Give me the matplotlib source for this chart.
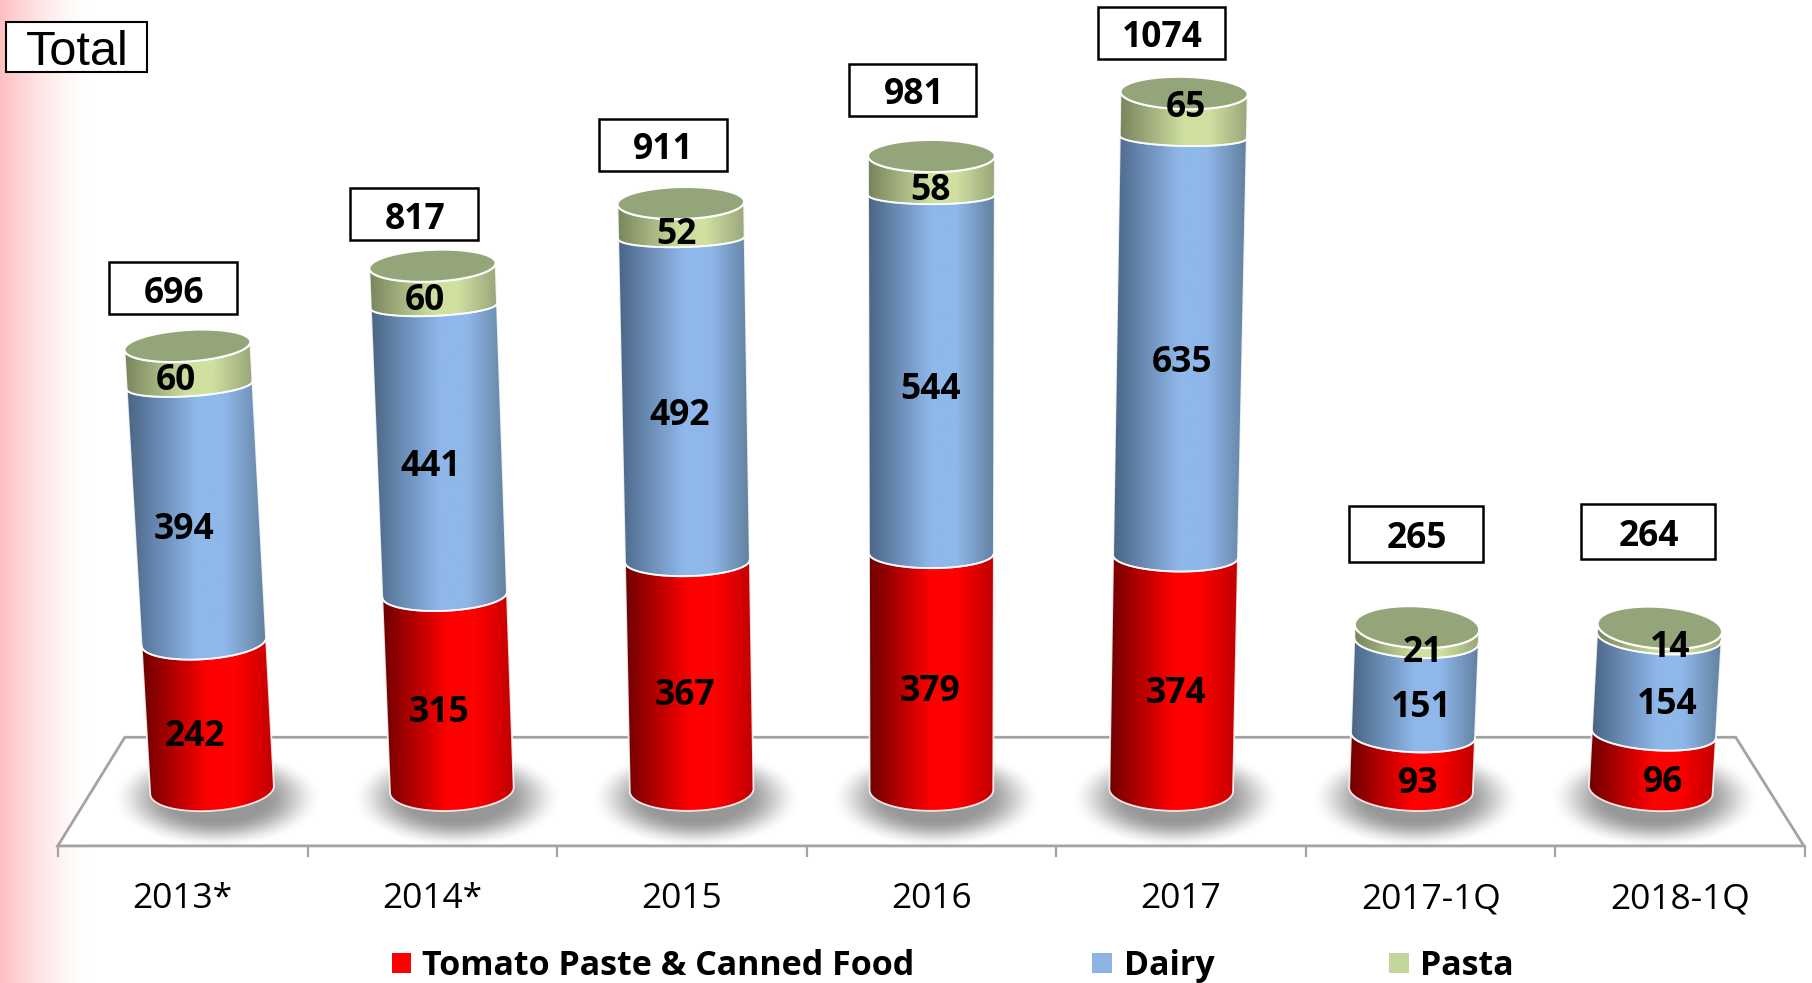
import numpy as np
import matplotlib
matplotlib.use("Agg")
import matplotlib.pyplot as plt
from matplotlib.patches import Polygon, Rectangle
from matplotlib.transforms import Affine2D, blended_transform_factory

# ---------- data ----------
categories = ["2013*", "2014*", "2015", "2016", "2017", "2017-1Q", "2018-1Q"]
tomato = [242, 315, 367, 379, 374, 93, 96]
dairy = [394, 441, 492, 544, 635, 151, 154]
pasta = [60, 60, 52, 58, 65, 21, 14]
totals = [696, 817, 911, 981, 1074, 265, 264]
series_names = ["Tomato Paste & Canned Food", "Dairy", "Pasta"]

# ---------- styles / layout ----------
S = 1812 / 1568
W, H = 1812, 983
FONT = "Open Sans"
DARK = {"t": ["#6e0000", "#ff0000", "#ff0000", "#c00000"],
        "d": ["#4a6585", "#8fb8ea", "#8fb8ea", "#62809f"],
        "p": ["#77845c", "#cfe0a0", "#cfe0a0", "#9aa67a"]}
STOPS = [0.0, 0.5, 0.7, 1.0]
CAP = "#95a57a"
LEGEND_COL = ["#ff0000", "#8db4e2", "#c3d69b"]
box_extents = [(94, 205, 227, 272), (303, 414, 163, 208), (518, 629, 103, 148),
               (735, 845, 55, 100), (950, 1060, 6, 51), (1167, 1283, 438, 486),
               (1368, 1484, 436, 484)]
label_dy = {"t": 18, "d": 14, "p": 13}
TEXT_DY = 3.5


def height_fwd(v):
    v = np.asarray(v, dtype=float)
    pos = np.maximum(v, 0)
    h = 0.5635 * pos - 9 * (1 - np.exp(-pos / 100)) + 7 * (pos / 1074) ** 4
    return np.where(v < 0, 0.4735 * v, h)


_grid = np.linspace(-1000, 3000, 8001)
_hgrid = height_fwd(_grid)


def height_inv(h):
    return np.interp(h, _hgrid, _grid)


fig = plt.figure(figsize=(W / 100, H / 100), dpi=100)
ax = fig.add_axes([0, 0, 1, 1])
ax.set_yscale("function", functions=(height_fwd, height_inv))
x_unit = 207.5 * S
ax.set_xlim(3 - 806 * S / x_unit, 3 + (W - 806 * S) / x_unit)
ax.set_ylim(height_inv(-167.0), height_inv(683.7))
ax.set_autoscale_on(False)
ax.axis("off")

px = Affine2D().scale(1, -1).translate(0, H)  # image pixels, y down
xblend = blended_transform_factory(ax.transData, px)


def anchor(cat, v):
    """Pixel position (image coords) of the axis of a cylinder at value v."""
    x, y = ax.transData.transform((cat, v))
    base = ax.transData.transform((cat, 0))[1]
    h_px = y - base
    return x + 0.0185 * (cat - 3) * h_px, H - y, h_px / S


def ry_level(h):
    return S * np.interp(h, [0, 50, 130, 200, 300, 400, 600], [18, 14, 15, 13, 10.5, 8.5, 7.5])


def ry_cap(h):
    return S * np.interp(h, [140, 300, 600], [18, 13.5, 14])


def rx_at(h):
    return S * (53.5 + 1.5 * h / 600)


def ellipse(cat, cx, cy, rx, ry, t):
    slope = 0.021 * (cat - 3)
    return np.column_stack([cx + rx * np.cos(t), cy + ry * np.sin(t) + slope * rx * np.cos(t)])


FRONT = np.linspace(np.pi, 0, 60)
FULL = np.linspace(0, 2 * np.pi, 120)


def hex_rgb(c):
    return np.array(matplotlib.colors.to_rgb(c))


def gradient(key):
    pos = np.linspace(0, 1, 256)
    cols = np.array([hex_rgb(c) for c in DARK[key]])
    return np.stack([np.interp(pos, STOPS, cols[:, i]) for i in range(3)], axis=-1)[None, :, :]


# ---------- background band ----------
pos = np.linspace(0, 1, 120)
alpha = np.clip(1 - pos, 0, 1) ** 1.5
bg = np.ones((1, 120, 3))
bg[..., 1] = bg[..., 2] = 1 - 0.25 * alpha
ax.imshow(bg, extent=(0, 90, H, 0), transform=px, aspect="auto", zorder=0, interpolation="bilinear")

# ---------- floor ----------
floor = np.array([(50, 732), (108, 638), (1502, 638), (1561, 732)]) * S
ax.add_patch(Polygon(floor, closed=True, facecolor="white", edgecolor="#a3a3a3", lw=2,
                     transform=px, zorder=1, joinstyle="miter"))
front_y = 732 * S
for i in range(len(categories) + 1):
    xc = 3 + (i - 3.5) * 215.9 / 207.5
    ax.plot([xc, xc], [front_y, 741 * S], color="#a3a3a3", lw=1.6, transform=xblend, zorder=1)
for i, c in enumerate(categories):
    xc = 3 + (i - 3) * 216 / 207.5
    ax.text(xc, (775 + TEXT_DY - 0.5) * S, c, transform=xblend, ha="center", va="center", family=FONT,
            fontsize=25.5, color="#000000")

# ---------- cylinders ----------
for i in range(len(categories)):
    cx0, cy0, h0 = anchor(i, 0)
    # shadow
    n = 200
    yy, xx = np.mgrid[-1.1:1.1:n * 1j, -1.1:1.1:n * 1j]
    r = np.sqrt(xx ** 2 + yy ** 2)
    a = np.clip((1.0 - r) / 0.55, 0, 1)
    a = a * a * (3 - 2 * a) * 0.7
    img = np.zeros((n, n, 4))
    img[..., :3] = 0.42
    img[..., 3] = a
    sx, sy = cx0 + 4 * S, cy0 + 7 * S
    rsx, rsy = 92 * S, 43 * S
    ax.imshow(img, extent=(sx - 1.1 * rsx, sx + 1.1 * rsx, sy + 1.1 * rsy, sy - 1.1 * rsy),
              transform=px, aspect="auto", zorder=2, interpolation="bilinear")

    levels = [0, tomato[i], tomato[i] + dairy[i], totals[i]]
    keys = ["t", "d", "p"]
    vals = [tomato[i], dairy[i], pasta[i]]
    for k in range(3):
        xa, ya, ha = anchor(i, levels[k])
        xb, yb, hb = anchor(i, levels[k + 1])
        low = ellipse(i, xa, ya, rx_at(ha), ry_level(ha), FRONT)
        ryt = ry_cap(hb) if k == 2 else ry_level(hb)
        up = ellipse(i, xb, yb, rx_at(hb), ryt, FRONT)
        poly = np.vstack([low, up[::-1]])
        clip = Polygon(poly, closed=True, transform=px, facecolor="none", edgecolor="none")
        ax.add_patch(clip)
        x0, x1 = poly[:, 0].min(), poly[:, 0].max()
        y0, y1 = poly[:, 1].min(), poly[:, 1].max()
        im = ax.imshow(gradient(keys[k]), extent=(x0, x1, y1, y0), transform=px, aspect="auto",
                       zorder=3 + 0.1 * k, interpolation="bilinear")
        im.set_clip_path(clip)
        ax.add_patch(Polygon(poly, closed=True, facecolor="none", edgecolor="white", lw=1.3,
                             alpha=0.85, transform=px, zorder=3.5))
    xt, yt, ht = anchor(i, totals[i])
    cap = ellipse(i, xt, yt, rx_at(ht), ry_cap(ht), FULL)
    ax.add_patch(Polygon(cap, closed=True, facecolor=CAP, edgecolor="white", lw=1.5,
                         transform=px, zorder=3.6))
    # value labels
    for k in range(3):
        xa, ya, _ = anchor(i, levels[k])
        xb, yb, _ = anchor(i, levels[k + 1])
        dy = label_dy[keys[k]]
        if keys[k] == "p" and i == 4:
            dy = -6
        if keys[k] == "p" and i == 5:
            dy = 16.5
        if keys[k] == "p" and i == 6:
            dy = 13.5
        if keys[k] == "d" and i >= 5:
            dy = 17
        ax.text((xa + xb) / 2 + 3.3 * S * (i - 3) - 1.0 * S, (ya + yb) / 2 + dy * S, str(vals[k]),
                transform=px, ha="center", va="center", family=FONT, fontweight="bold",
                fontsize=25.5, color="black", zorder=5)
    # total box
    bx0, bx1, by0, by1 = [v * S for v in box_extents[i]]
    ax.add_patch(Rectangle((bx0, by0), bx1 - bx0, by1 - by0, facecolor="white", edgecolor="black",
                           lw=1.8, transform=px, zorder=5))
    ax.text((bx0 + bx1) / 2 + 1, (by0 + by1) / 2 + (TEXT_DY + 1.0) * S, str(totals[i]), transform=px,
            ha="center", va="center", family=FONT, fontweight="bold", fontsize=25.5, color="black",
            zorder=6)

# ---------- title box ----------
ax.add_patch(Rectangle((5 * S, 19 * S), 122 * S, 43 * S, facecolor="white", edgecolor="black",
                       lw=1.5, transform=px, zorder=5))
ax.text(66.5 * S, 45 * S, "Total", transform=px, ha="center", va="center",
        family="Liberation Sans", fontsize=35, color="black", zorder=6)

# ---------- legend ----------
for name, col, sq, tx in zip(series_names, LEGEND_COL, [339, 945, 1202], [365, 973, 1229]):
    ax.add_patch(Rectangle((sq * S, 825 * S), 17 * S, 17 * S, facecolor=col, edgecolor="none",
                           transform=px, zorder=5))
    ax.text(tx * S, (833 + TEXT_DY - 0.5) * S, name, transform=px, ha="left", va="center", family=FONT,
            fontweight="bold", fontsize=24.5, color="black", zorder=6)

fig.savefig("out.png", dpi=100)
